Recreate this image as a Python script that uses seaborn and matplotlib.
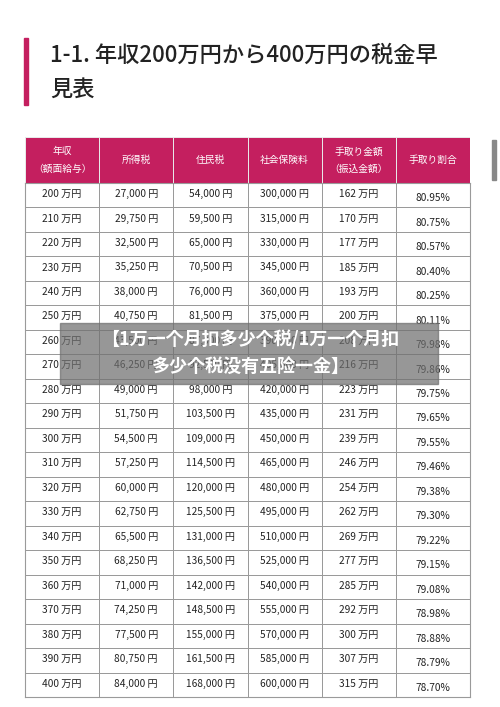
import numpy as np
import pandas as pd
import matplotlib
matplotlib.use("Agg")
import matplotlib.pyplot as plt
import seaborn as sns
from matplotlib.colors import ListedColormap

sns.set_theme(style="white")
plt.rcParams['font.family'] = ['Noto Sans CJK JP', 'DejaVu Sans']

headers = ["年収\n（額面給与）", "所得税", "住民税", "社会保険料", "手取り金額\n（振込金額）", "手取り割合"]
income = [200, 210, 220, 230, 240, 250, 260, 270, 280, 290, 300, 310, 320, 330, 340, 350, 360, 370, 380, 390, 400]
income_tax = [27000, 29750, 32500, 35250, 38000, 40750, 43500, 46250, 49000, 51750, 54500, 57250, 60000, 62750, 65500, 68250, 71000, 74250, 77500, 80750, 84000]
resident_tax = [54000, 59500, 65000, 70500, 76000, 81500, 87000, 92500, 98000, 103500, 109000, 114500, 120000, 125500, 131000, 136500, 142000, 148500, 155000, 161500, 168000]
social = [300000, 315000, 330000, 345000, 360000, 375000, 390000, 405000, 420000, 435000, 450000, 465000, 480000, 495000, 510000, 525000, 540000, 555000, 570000, 585000, 600000]
takehome = [162, 170, 177, 185, 193, 200, 208, 216, 223, 231, 239, 246, 254, 262, 269, 277, 285, 292, 300, 307, 315]
ratio = [80.95, 80.75, 80.57, 80.40, 80.25, 80.11, 79.98, 79.86, 79.75, 79.65, 79.55, 79.46, 79.38, 79.30, 79.22, 79.15, 79.08, 78.98, 78.88, 78.79, 78.70]

PINK = "#c41f5f"
fig = plt.figure(figsize=(5, 7.07), dpi=100)

# title
fig.patches.append(plt.Rectangle((0.048, 1-105/707), 0.008, 67/707, transform=fig.transFigure, color=PINK))
fig.text(0.10, 1-55/707, "1-1. 年収200万円から400万円の税金早", fontsize=16, va="center",
         color="#222222", weight="medium")
fig.text(0.10, 1-89/707, "見表", fontsize=16, va="center", color="#222222", weight="medium")
# scrollbar
fig.patches.append(plt.Rectangle((0.984, 1-180/707), 0.008, 40/707, transform=fig.transFigure, color="#888888"))

# header
axh = fig.add_axes([0.05, 1-183/707, 0.89, 46/707])
sns.heatmap(np.zeros((1, 6)), ax=axh, cmap=ListedColormap([PINK]), cbar=False,
            linewidths=0.6, linecolor="#e8e8e8", xticklabels=False, yticklabels=False)
for j, h in enumerate(headers):
    axh.text(j + 0.5, 0.5, h, ha="center", va="center", color="white", fontsize=7, linespacing=1.9)

# body
n = len(income)
cols = [[f"{v} 万円" for v in income],
        [f"{v:,} 円" for v in income_tax],
        [f"{v:,} 円" for v in resident_tax],
        [f"{v:,} 円" for v in social],
        [f"{v} 万円" for v in takehome],
        [f"{v:.2f}%" for v in ratio]]
df = pd.DataFrame(np.zeros((n, 6)))
axb = fig.add_axes([0.05, 1-697/707, 0.89, 514/707])
sns.heatmap(df, ax=axb, cmap=ListedColormap(["white"]), cbar=False,
            linewidths=0.6, linecolor="#9a9a9a", xticklabels=False, yticklabels=False)
for j, c in enumerate(cols):
    for i, t in enumerate(c):
        dy = 0.62 if j == 5 else 0.45
        axb.text(j + 0.5, i + dy, t, ha="center", va="center", fontsize=7.3, color="#222222")
for s in axb.spines.values():
    s.set_visible(True); s.set_color("#9a9a9a"); s.set_linewidth(0.8)

# overlay banner
fig.patches.append(plt.Rectangle((60/500, 1-384/707), 378/500, 61/707, transform=fig.transFigure,
                                 color="#6f6f6f", alpha=0.72, zorder=10))
fig.text(0.5, 1-339/707, "【1万一个月扣多少个税/1万一个月扣", ha="center", va="center",
         fontsize=13, color="white", weight="bold", zorder=11)
fig.text(0.5, 1-367/707, "多少个税没有五险一金】", ha="center", va="center",
         fontsize=13, color="white", weight="bold", zorder=11)

fig.savefig("out.png", dpi=100)
